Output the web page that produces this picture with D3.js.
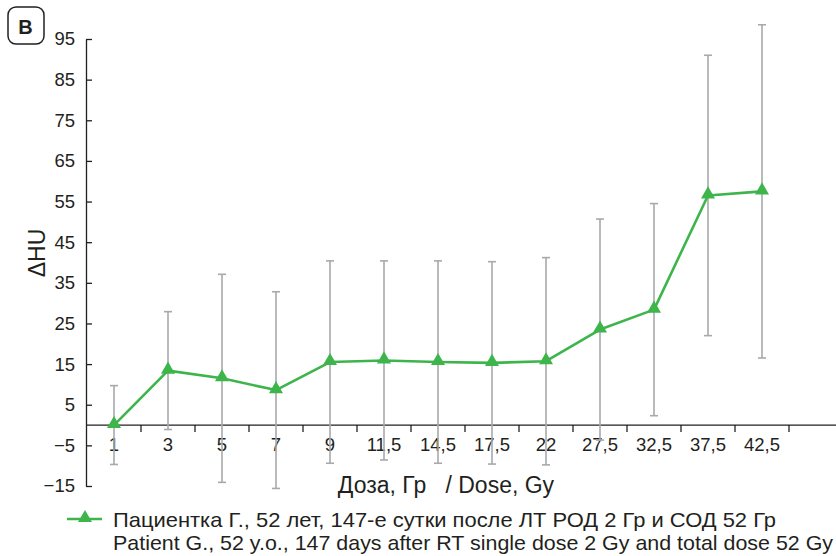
<!DOCTYPE html>
<html>
<head>
<meta charset="utf-8">
<script src="https://cdn.jsdelivr.net/npm/d3@7"></script>
<style>
  body { margin: 0; background: #fff; }
  svg { display: block; font-family: "Liberation Sans", Arial, Helvetica, sans-serif; }
</style>
</head>
<body>
<script>
// dose categories (x) and ΔHU mean / sd (y)
const doses = ['1', '3', '5', '7', '9', '11,5', '14,5', '17,5', '22', '27,5', '32,5', '37,5', '42,5'];
const meanHU = [0, 13.4, 11.5, 8.6, 15.5, 15.9, 15.5, 15.3, 15.7, 23.5, 28.4, 56.5, 57.5];
const sdHU = [9.7, 14.5, 25.6, 24.2, 24.9, 24.5, 24.9, 24.9, 25.5, 27.2, 26.1, 34.5, 41.0];
const yTicks = [-15, -5, 5, 15, 25, 35, 45, 55, 65, 75, 85, 95];

const legendLines = [
  'Пациентка Г., 52 лет, 147-е сутки после ЛТ РОД 2 Гр и СОД 52 Гр',
  'Patient G., 52 y.o., 147 days after RT single dose 2 Gy and total dose 52 Gy'
];

const w = 836;
const h = 556;
const green = '#3db54a';
const grey = '#a7a9ac';
const ink = '#231f20';

const svg = d3.select('body').append('svg').attr('width', w).attr('height', h);

const x = d3.scaleBand().domain(doses).range([87, 789]).padding(0);
const y = d3.scaleLinear().domain([-15, 95]).range([486, 39]);

// panel letter
svg.append('rect')
  .attr('x', 8).attr('y', 7).attr('width', 36).attr('height', 37)
  .attr('rx', 8).attr('fill', 'none').attr('stroke', ink).attr('stroke-width', 1.5);
svg.append('text')
  .attr('x', 25.5).attr('y', 33.5)
  .attr('text-anchor', 'middle')
  .attr('font-size', 20).attr('font-weight', 'bold').attr('fill', ink)
  .text('В');

// y axis
const yAxis = svg.append('g')
  .attr('transform', 'translate(86,0)')
  .call(d3.axisLeft(y).tickValues(yTicks).tickSizeInner(-6).tickSizeOuter(0).tickPadding(11));
yAxis.selectAll('path, line').attr('stroke', ink).attr('stroke-width', 1.3);
yAxis.selectAll('text').attr('font-size', 18.5).attr('fill', ink).attr('font-family', null);

// x axis at zero
const x0 = y(0);
svg.append('line')
  .attr('x1', 86).attr('x2', w).attr('y1', x0).attr('y2', x0)
  .attr('stroke', ink).attr('stroke-width', 1.3);

svg.append('g')
  .selectAll('line')
  .data(doses)
  .enter()
  .append('line')
  .attr('x1', (d) => x(d) + x.bandwidth())
  .attr('x2', (d) => x(d) + x.bandwidth())
  .attr('y1', x0)
  .attr('y2', x0 + 7)
  .attr('stroke', ink)
  .attr('stroke-width', 1.3);

svg.append('g')
  .selectAll('text')
  .data(doses)
  .enter()
  .append('text')
  .attr('x', (d) => x(d) + x.bandwidth() / 2)
  .attr('y', x0 + 25.5)
  .attr('text-anchor', 'middle')
  .attr('font-size', 18.5)
  .attr('fill', ink)
  .text((d) => d);

// axis titles
svg.append('text')
  .attr('x', 446).attr('y', 493)
  .attr('text-anchor', 'middle')
  .attr('font-size', 23).attr('fill', ink)
  .attr('xml:space', 'preserve')
  .style('white-space', 'pre')
  .text('Доза, Гр   / Dose, Gy');

svg.append('text')
  .attr('transform', 'translate(45,253) rotate(-90)')
  .attr('text-anchor', 'middle')
  .attr('font-size', 23).attr('fill', ink)
  .text('ΔHU');

// error bars
const bars = svg.append('g')
  .selectAll('g')
  .data(doses)
  .enter()
  .append('g')
  .attr('stroke', grey)
  .attr('stroke-width', 1.6);

const cx = (d) => x(d) + x.bandwidth() / 2;
bars.append('line')
  .attr('x1', cx).attr('x2', cx)
  .attr('y1', (d, i) => y(meanHU[i] + sdHU[i]))
  .attr('y2', (d, i) => y(meanHU[i] - sdHU[i]));
bars.append('line')
  .attr('x1', (d) => cx(d) - 4).attr('x2', (d) => cx(d) + 4)
  .attr('y1', (d, i) => y(meanHU[i] + sdHU[i]))
  .attr('y2', (d, i) => y(meanHU[i] + sdHU[i]));
bars.append('line')
  .attr('x1', (d) => cx(d) - 4).attr('x2', (d) => cx(d) + 4)
  .attr('y1', (d, i) => y(meanHU[i] - sdHU[i]))
  .attr('y2', (d, i) => y(meanHU[i] - sdHU[i]));

// mean line
const line = d3.line()
  .x((d) => cx(d))
  .y((d, i) => y(meanHU[i]));

svg.append('path')
  .datum(doses)
  .attr('d', line)
  .attr('fill', 'none')
  .attr('stroke', green)
  .attr('stroke-width', 2.6)
  .attr('stroke-linejoin', 'round');

const tri = d3.symbol().type(d3.symbolTriangle).size(85);
svg.append('g')
  .selectAll('path')
  .data(doses)
  .enter()
  .append('path')
  .attr('d', tri)
  .attr('transform', (d, i) => `translate(${cx(d)},${y(meanHU[i]) - 1})`)
  .attr('fill', green);

// legend
svg.append('line')
  .attr('x1', 67).attr('x2', 102).attr('y1', 519).attr('y2', 519)
  .attr('stroke', green).attr('stroke-width', 2.6);
svg.append('path')
  .attr('d', tri)
  .attr('transform', 'translate(85,518)')
  .attr('fill', green);

svg.append('g')
  .selectAll('text')
  .data(legendLines)
  .enter()
  .append('text')
  .attr('x', 113)
  .attr('y', (d, i) => 527 + i * 23)
  .attr('font-size', 21)
  .attr('fill', ink)
  .attr('font-family', '"Liberation Sans Narrow", "Liberation Sans", Arial, sans-serif')
  .attr('textLength', (d, i) => (i === 0 ? 663 : 720))
  .attr('lengthAdjust', 'spacingAndGlyphs')
  .text((d) => d);
</script>
</body>
</html>
